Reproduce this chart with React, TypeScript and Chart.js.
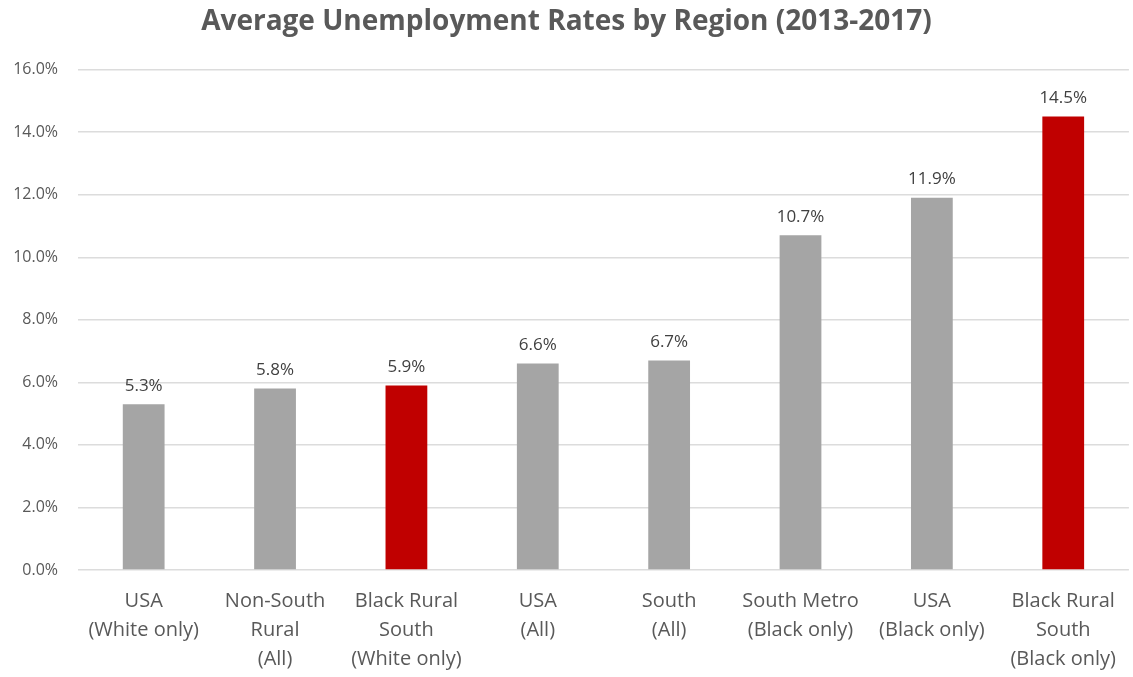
import React, { useEffect, useRef } from "react";
import { Chart, registerables } from "chart.js";

Chart.register(...registerables);

const categories: string[][] = [
  ["USA", "(White only)"],
  ["Non-South", "Rural", "(All)"],
  ["Black Rural", "South", "(White only)"],
  ["USA", "(All)"],
  ["South", "(All)"],
  ["South Metro", "(Black only)"],
  ["USA", "(Black only)"],
  ["Black Rural", "South", "(Black only)"],
];
const rates: number[] = [5.3, 5.8, 5.9, 6.6, 6.7, 10.7, 11.9, 14.5];
const highlighted: boolean[] = [false, false, true, false, false, false, false, true];
const titleText = "Average Unemployment Rates by Region (2013-2017)";

const GRAY = "#a5a5a5";
const RED = "#c00000";
const TEXT = "#595959";
const FONT = "'Open Sans', sans-serif";

const dataLabels = {
  id: "dataLabels",
  afterDatasetsDraw(chart: any) {
    const ctx = chart.ctx;
    const meta = chart.getDatasetMeta(0);
    ctx.save();
    ctx.font = `17px ${FONT}`;
    ctx.fillStyle = "#404040";
    ctx.textAlign = "center";
    ctx.textBaseline = "bottom";
    meta.data.forEach((bar: any, i: number) => {
      ctx.fillText(rates[i].toFixed(1) + "%", bar.x, bar.y - 10);
    });
    ctx.restore();
  },
};

export default function App() {
  const ref = useRef<HTMLCanvasElement>(null);
  useEffect(() => {
    if (!ref.current) return;
    const chart = new Chart(ref.current, {
      type: "bar",
      data: {
        labels: categories,
        datasets: [
          {
            data: rates,
            backgroundColor: highlighted.map((h) => (h ? RED : GRAY)),
            categoryPercentage: 1,
            barPercentage: 0.318,
          },
        ],
      },
      options: {
        animation: false,
        responsive: false,
        maintainAspectRatio: false,
        layout: { padding: { left: 0, right: 0, top: 0, bottom: 0 } },
        plugins: {
          legend: { display: false },
          tooltip: { enabled: false },
          title: {
            display: true,
            text: titleText,
            color: TEXT,
            font: { family: FONT, size: 28, weight: "bold" },
            padding: { top: 5, bottom: 31 },
          },
        },
        scales: {
          x: {
            afterFit: (s: any) => {
              s.height = 107;
            },
            grid: { display: false, drawTicks: false },
            border: { display: false },
            ticks: {
              color: TEXT,
              font: { family: FONT, size: 20, lineHeight: 1.45 },
              maxRotation: 0,
              autoSkip: false,
              padding: 17,
            },
          },
          y: {
            min: 0,
            max: 16,
            afterFit: (s: any) => {
              s.width = 78;
            },
            grid: { color: "#dcdcdc", lineWidth: 1.5, drawTicks: false },
            border: { display: false },
            ticks: {
              stepSize: 2,
              color: TEXT,
              font: { family: FONT, size: 16 },
              padding: 20,
              callback: (v: any) => Number(v).toFixed(1) + "%",
            },
          },
        },
      },
      plugins: [dataLabels],
    });
    return () => chart.destroy();
  }, []);
  return (
    <div style={{ position: "absolute", left: 0, top: 0, width: 1133, height: 677, background: "#fff" }}>
      <canvas ref={ref} width={1133} height={677} />
    </div>
  );
}
